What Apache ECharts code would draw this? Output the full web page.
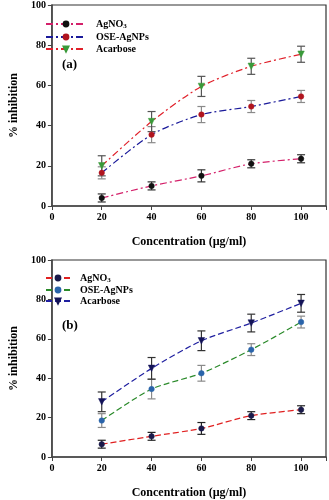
<!DOCTYPE html>
<html>
<head>
<meta charset="utf-8">
<script src="https://cdn.jsdelivr.net/npm/echarts@6/dist/echarts.min.js"></script>
<style>
  html, body { margin: 0; padding: 0; background: #fff; }
  #chart { width: 329px; height: 500px; }
</style>
</head>
<body>
<div id="chart"></div>
<script>
// Concentrations tested (µg/ml)
const conc = [20, 40, 60, 80, 100];
const xTicks = [0, 20, 40, 60, 80, 100];
const yTicks = [0, 20, 40, 60, 80, 100];

// Panel (a): mean % inhibition and standard deviation
const aAgNO3 = [4, 10, 15, 21, 23.5];
const aAgNO3Err = [2, 2, 3, 2, 2];
const aOSE = [16.5, 35.5, 45.5, 49.5, 54.5];
const aOSEErr = [3, 4, 4, 3, 3];
const aAcarbose = [20, 42, 59.5, 69.5, 75.5];
const aAcarboseErr = [5, 5, 5, 4, 4];

// Panel (b)
const bAgNO3 = [6.5, 10.5, 14.5, 21, 24];
const bAgNO3Err = [2, 2, 3, 2, 2];
const bOSE = [18.5, 34.5, 42.5, 54.5, 68.5];
const bOSEErr = [3.5, 5, 4, 3, 3];
const bAcarbose = [28, 45, 59, 68, 78];
const bAcarboseErr = [5, 5.5, 5, 4.5, 4.5];

const FONT = '"Liberation Serif", "DejaVu Serif", serif';
// Downward-pointing triangle marker
const DOWN_TRI = 'path://M0,0 L10,0 L5,9 Z';

function pairs(ys) { return conc.map((x, i) => [x, ys[i]]); }
function errRows(ys, es) { return conc.map((x, i) => [x, ys[i] - es[i], ys[i] + es[i]]); }

function errorSeries(ys, es, gi, color) {
  return {
    type: 'custom',
    xAxisIndex: gi, yAxisIndex: gi,
    z: 1,
    silent: true,
    encode: { x: 0, y: [1, 2] },
    data: errRows(ys, es),
    renderItem: function (params, api) {
      const x = api.value(0);
      const top = api.coord([x, api.value(2)]);
      const bot = api.coord([x, api.value(1)]);
      const w = 4;
      const st = { stroke: color, lineWidth: 1.2 };
      return {
        type: 'group',
        children: [
          { type: 'line', shape: { x1: top[0], y1: top[1], x2: bot[0], y2: bot[1] }, style: st },
          { type: 'line', shape: { x1: top[0] - w, y1: top[1], x2: top[0] + w, y2: top[1] }, style: st },
          { type: 'line', shape: { x1: bot[0] - w, y1: bot[1], x2: bot[0] + w, y2: bot[1] }, style: st }
        ]
      };
    }
  };
}

function lineSeries(name, ys, gi, lineColor, dash, symbol, symColor, symSize) {
  return {
    name: name,
    type: 'line',
    xAxisIndex: gi, yAxisIndex: gi,
    z: 3,
    data: pairs(ys),
    smooth: 0.25,
    symbol: symbol,
    symbolSize: symSize,
    itemStyle: { color: symColor, borderColor: symColor, borderWidth: 0.5 },
    lineStyle: { color: lineColor, width: 1.2, type: dash },
    emphasis: { disabled: true }
  };
}

const dashDot = [7, 3, 2, 3];
const dashed = [6, 3];

function legendLabel(name) {
  const n = name.slice(2);
  if (n === 'AgNO3') return '{t|AgNO}{s|3}';
  return '{t|' + n + '}';
}

const legendText = {
  fontFamily: FONT, fontWeight: 'bold', fontSize: 10, color: '#000',
  padding: [0, 0, 0, 5],
  rich: {
    t: { fontFamily: FONT, fontWeight: 'bold', fontSize: 10, color: '#000' },
    s: { fontFamily: FONT, fontWeight: 'bold', fontSize: 7, color: '#000', padding: [5, 0, 0, 0] }
  }
};

function xAxisCfg(gi) {
  return {
    type: 'value', gridIndex: gi, min: 0, max: 110, interval: 20,
    name: 'Concentration (µg/ml)', nameLocation: 'middle', nameGap: 30,
    nameTextStyle: { fontFamily: FONT, fontWeight: 'bold', fontSize: 12, color: '#000' },
    axisLine: { show: true, lineStyle: { color: '#444', width: 1.5 } },
    axisTick: { show: true, inside: false, length: 4, lineStyle: { color: '#444' } },
    axisLabel: { fontFamily: FONT, fontWeight: 'bold', fontSize: 10, color: '#000', margin: 6,
      formatter: v => (xTicks.indexOf(v) >= 0 ? String(v) : '') },
    splitLine: { show: false }
  };
}

function yAxisCfg(gi) {
  return {
    type: 'value', gridIndex: gi, min: 0, max: 100, interval: 20,
    name: '% inhibition', nameLocation: 'middle', nameGap: 30,
    nameTextStyle: { fontFamily: FONT, fontWeight: 'bold', fontSize: 12, color: '#000' },
    axisLine: { show: true, lineStyle: { color: '#444', width: 1.5 } },
    axisTick: { show: true, inside: false, length: 4, lineStyle: { color: '#444' } },
    axisLabel: { fontFamily: FONT, fontWeight: 'bold', fontSize: 10, color: '#000', margin: 6,
      formatter: v => (yTicks.indexOf(v) >= 0 ? String(v) : '') },
    splitLine: { show: false }
  };
}

const chart = echarts.init(document.getElementById('chart'), null, { renderer: 'canvas' });

chart.setOption({
  animation: false,
  backgroundColor: '#fff',
  grid: [
    { left: 36.5, top: 4, width: 290.5, height: 202, show: true, borderColor: '#333', borderWidth: 1.2, backgroundColor: 'transparent' },
    { left: 36.5, top: 260, width: 290.5, height: 203, show: true, borderColor: '#333', borderWidth: 1.2, backgroundColor: 'transparent' }
  ],
  xAxis: [xAxisCfg(0), xAxisCfg(1)],
  yAxis: [yAxisCfg(0), yAxisCfg(1)],
  legend: [
    {
      data: ['a:AgNO3', 'a:OSE-AgNPs', 'a:Acarbose'],
      orient: 'vertical', left: 40, top: 14,
      itemWidth: 40, itemHeight: 6, itemGap: 2,
      formatter: legendLabel, textStyle: legendText,
      selectedMode: false
    },
    {
      data: ['b:AgNO3', 'b:OSE-AgNPs', 'b:Acarbose'],
      orient: 'vertical', left: 40, top: 268,
      itemWidth: 24, itemHeight: 6, itemGap: 1,
      formatter: legendLabel, textStyle: legendText,
      selectedMode: false
    }
  ],
  graphic: [
    { type: 'text', left: 62, top: 58, style: { text: '(a)', font: 'bold 13px ' + FONT, fill: '#000' } },
    { type: 'text', left: 62, top: 319, style: { text: '(b)', font: 'bold 13px ' + FONT, fill: '#000' } }
  ],
  series: [
    errorSeries(aAgNO3, aAgNO3Err, 0, '#333'),
    errorSeries(aOSE, aOSEErr, 0, '#8a8a8a'),
    errorSeries(aAcarbose, aAcarboseErr, 0, '#555'),
    lineSeries('a:AgNO3', aAgNO3, 0, '#d4206a', dashDot, 'circle', '#111', 5.5),
    lineSeries('a:OSE-AgNPs', aOSE, 0, '#1a1a9a', dashDot, 'circle', '#b0141e', 5.5),
    lineSeries('a:Acarbose', aAcarbose, 0, '#e0202a', dashDot, DOWN_TRI, '#3a9a3a', 6.5),

    errorSeries(bAgNO3, bAgNO3Err, 1, '#222'),
    errorSeries(bOSE, bOSEErr, 1, '#8a8a8a'),
    errorSeries(bAcarbose, bAcarboseErr, 1, '#333'),
    lineSeries('b:AgNO3', bAgNO3, 1, '#e02020', dashed, 'circle', '#1a1a4a', 5.5),
    lineSeries('b:OSE-AgNPs', bOSE, 1, '#2a8a2a', dashed, 'circle', '#2a64aa', 5.5),
    lineSeries('b:Acarbose', bAcarbose, 1, '#2020a0', dashed, DOWN_TRI, '#141458', 6.5)
  ]
});
</script>
</body>
</html>
